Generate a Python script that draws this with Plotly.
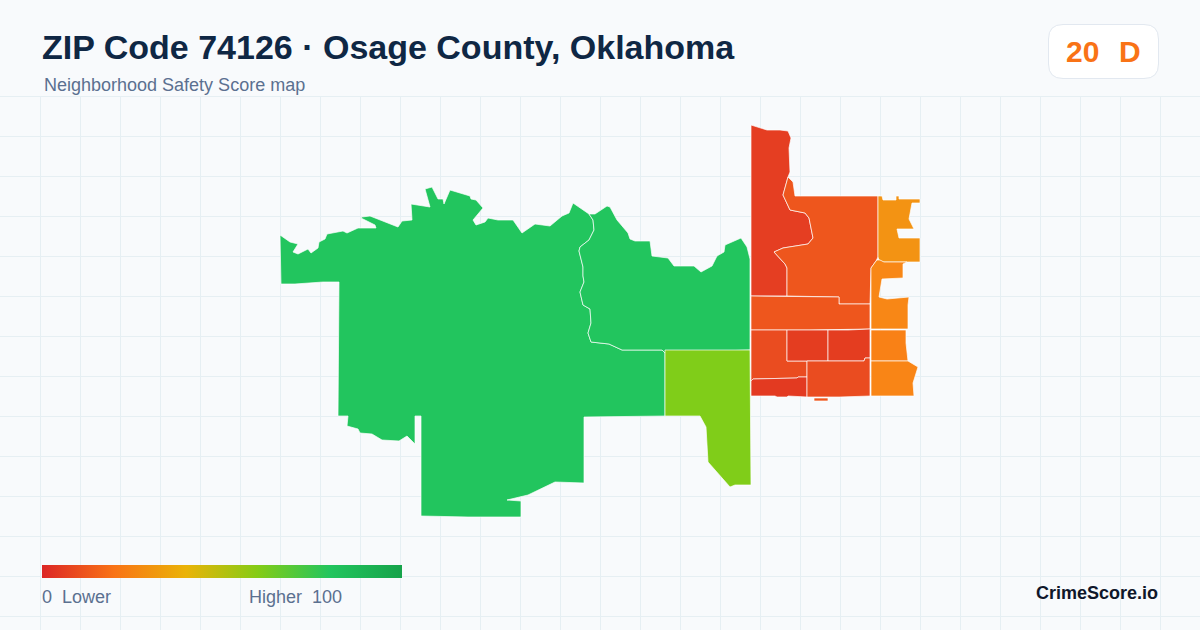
import plotly.graph_objects as go

TITLE = "ZIP Code 74126 · Osage County, Oklahoma"
SUBTITLE = "Neighborhood Safety Score map"
SCORE = "20"
GRADE = "D"
BRAND = "CrimeScore.io"
LEGEND_STOPS = [0, 0.2, 0.4, 0.6, 0.8, 1]
LEGEND_COLORS = ["#dc2626", "#f97316", "#eab308", "#84cc16", "#22c55e", "#16a34a"]

# map outlines
WEST_SPINE = [(589, 214), (593, 220), (594, 230), (589, 240), (580, 247), (579, 251), (583, 267), (583, 276),
              (584, 282), (580, 292), (583, 305), (590, 309), (591, 323), (588, 333), (591, 342), (609, 344),
              (622, 350), (642, 350), (662, 350), (665, 353)]
WEST_TRACT = [(280, 235), (290, 242), (298, 244), (293, 252), (298, 254), (308, 249), (311, 253), (318, 248),
              (319, 242), (325, 239), (327, 234), (343, 231), (347, 233), (358, 228), (376, 228), (375, 225),
              (361, 218), (362, 217), (370, 216), (398, 227), (402, 221), (412, 220), (411, 204), (430, 207),
              (425, 189), (432, 187), (438, 199), (443, 199), (444, 204), (450, 190), (470, 196), (471, 199),
              (476, 200), (483, 208), (473, 220), (476, 225), (485, 222), (488, 218), (498, 220), (513, 220),
              (522, 233), (535, 224), (550, 226), (562, 216), (569, 213), (573, 203)] + WEST_SPINE + [
              (665, 416), (584, 417), (584, 483), (555, 482), (528, 495), (507, 500), (521, 501), (521, 517),
              (468, 517), (421, 516), (421, 416), (415, 416), (415, 444), (407, 436), (399, 441), (382, 440),
              (372, 434), (360, 433), (358, 429), (347, 426), (348, 416), (338, 416), (339, 282), (323, 282),
              (295, 284), (281, 284)]
NORTH_GREEN = WEST_SPINE + [(750, 350), (750, 259), (747, 247), (741, 238), (725, 245), (724, 252), (717, 256),
                            (712, 266), (701, 272), (694, 266), (674, 266), (668, 258), (652, 256), (650, 241),
                            (635, 241), (630, 239), (628, 233), (617, 220), (610, 207), (607, 206), (595, 214)]
LIME_TRACT = [(665, 350), (750, 350), (751, 485), (735, 485), (730, 487), (708, 462), (706, 427), (700, 416),
              (665, 416)]
RED_DIVIDE = [(788, 177), (783, 195), (790, 210), (805, 213), (809, 218), (813, 238), (808, 244), (783, 248),
              (774, 252), (785, 264), (787, 268), (787, 296)]
NW_RED = [(751, 125), (767, 130), (780, 130), (788, 131), (791, 138), (789, 148), (790, 172)] + RED_DIVIDE + [
          (751, 296)]
N_ORANGE_RED = RED_DIVIDE + [(839, 297), (839, 304), (870, 304), (871, 268), (876, 261), (878, 257), (878, 196),
                             (795, 196), (793, 182)]
MID_BAND = [(751, 296), (839, 297), (839, 304), (870, 304), (870, 329), (810, 330), (751, 330)]
SW_BLOCK = [(751, 330), (787, 330), (787, 361), (807, 361), (807, 377), (798, 377), (797, 378), (753, 379),
            (752, 381), (751, 381)]
SW_STRIP = [(751, 381), (753, 379), (797, 378), (798, 377), (807, 377), (807, 397), (788, 396), (787, 397),
            (777, 397), (775, 396), (751, 396)]
BLOCK_A = [(787, 330), (828, 330), (828, 361), (787, 361)]
BLOCK_B = [(828, 330), (848, 330), (870, 329), (870, 358), (865, 358), (864, 361), (828, 361)]
BLOCK_C = [(807, 361), (864, 361), (865, 358), (870, 358), (870, 396), (840, 397), (807, 397)]
SLIVER = [(814, 398), (828, 398), (828, 401), (814, 401)]
NE_ORANGE = [(878, 196), (882, 196), (883, 200), (896, 200), (896, 196), (899, 196), (899, 199), (920, 199),
             (920, 203), (912, 203), (909, 219), (914, 229), (897, 229), (899, 238), (920, 238), (920, 262),
             (906, 262), (883, 262), (879, 260), (878, 257)]
E_ORANGE = [(877, 260), (880, 260), (884, 262), (907, 262), (903, 264), (903, 278), (882, 279), (879, 297),
            (887, 299), (903, 297), (909, 297), (908, 305), (908, 329), (871, 329), (871, 268), (876, 261)]
E_BLOCK_2 = [(871, 330), (906, 330), (906, 343), (908, 361), (871, 361)]
E_BLOCK_3 = [(871, 361), (908, 361), (918, 367), (913, 383), (914, 396), (871, 396)]

REGIONS = [WEST_TRACT, NORTH_GREEN, LIME_TRACT, NW_RED, N_ORANGE_RED, MID_BAND, SW_BLOCK, SW_STRIP,
           BLOCK_A, BLOCK_B, BLOCK_C, SLIVER, NE_ORANGE, E_ORANGE, E_BLOCK_2, E_BLOCK_3]
REGION_COLORS = ["#22c55e", "#22c55e", "#80cd19", "#e53e22", "#ee561d", "#ee561d", "#ea4c20", "#e33a21",
                 "#e43d20", "#e43d20", "#ea4c20", "#ee561d", "#f39313", "#f88716", "#f98116", "#f98516"]


def add_region(fig, outline, color):
    xs = [p[0] for p in outline] + [outline[0][0]]
    ys = [p[1] for p in outline] + [outline[0][1]]
    fig.add_trace(go.Scatter(x=xs, y=ys, mode="lines", fill="toself", fillcolor=color,
                             line=dict(color="rgba(255,255,255,0.85)", width=0.8), hoverinfo="skip"))


def add_text(fig, x, y, text, size, color, anchor="left", bold=False):
    fig.add_annotation(x=x, y=y, text=f"<b>{text}</b>" if bold else text, showarrow=False, xanchor=anchor,
                       yanchor="middle", borderpad=0, borderwidth=0,
                       font=dict(family="Liberation Sans", size=size, color=color))


fig = go.Figure()

for outline, color in zip(REGIONS, REGION_COLORS):
    add_region(fig, outline, color)

# legend bar
fig.add_trace(go.Scatter(x=[42, 402, 402, 42, 42], y=[565, 565, 578, 578, 565], mode="lines", fill="toself",
                         line=dict(width=0), hoverinfo="skip",
                         fillgradient=dict(type="horizontal",
                                           colorscale=list(zip(LEGEND_STOPS, LEGEND_COLORS)))))

# background grid only runs below the header
for gx in range(40, 1200, 40):
    fig.add_shape(type="line", x0=gx + 0.5, x1=gx + 0.5, y0=96, y1=630, layer="below",
                  line=dict(color="#e6eff3", width=1))
for gy in range(96, 630, 40):
    fig.add_shape(type="line", x0=0, x1=1200, y0=gy + 0.5, y1=gy + 0.5, layer="below",
                  line=dict(color="#e6eff3", width=1))

# score badge
fig.add_shape(type="path", layer="above", fillcolor="#ffffff", line=dict(color="#e2e8f0", width=1),
              path="M 1063 24.5 L 1144 24.5 Q 1158.5 24.5 1158.5 39 L 1158.5 64 Q 1158.5 78.5 1144 78.5 "
                   "L 1063 78.5 Q 1048.5 78.5 1048.5 64 L 1048.5 39 Q 1048.5 24.5 1063 24.5 Z")

add_text(fig, 42, 47, TITLE, 34, "#0f2744", bold=True)
add_text(fig, 44, 85, SUBTITLE, 18, "#5b7090")
add_text(fig, 1065.5, 51, SCORE, 30, "#f97316", bold=True)
add_text(fig, 1119, 51, GRADE, 30, "#f97316", bold=True)
add_text(fig, 42, 597, "0  Lower", 18, "#5b7090")
add_text(fig, 249, 597, "Higher  100", 18, "#5b7090")
add_text(fig, 1158, 593, BRAND, 18, "#0f172a", anchor="right", bold=True)

fig.update_layout(
    width=1200, height=630, margin=dict(l=0, r=0, t=0, b=0), showlegend=False,
    paper_bgcolor="#f8fafc", plot_bgcolor="#f8fafc",
    xaxis=dict(range=[0, 1200], visible=False, fixedrange=True),
    yaxis=dict(range=[630, 0], visible=False, fixedrange=True),
)

fig.write_html("out.html", config={"displayModeBar": False},
               post_script="document.body.style.margin='0';document.body.style.overflow='hidden';")
